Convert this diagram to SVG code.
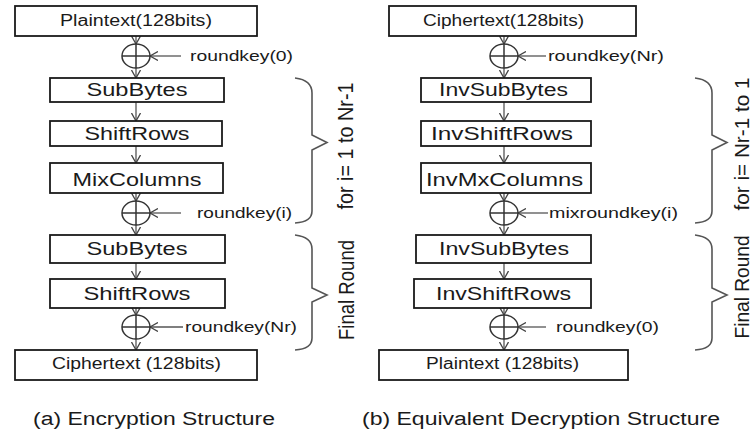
<svg xmlns="http://www.w3.org/2000/svg" width="752" height="435" viewBox="0 0 752 435">
<style>
.box{fill:#fff;stroke:#1a1a1a;stroke-width:1.8}
.t{font-family:"Liberation Sans",Arial,sans-serif;fill:#1a1a1a;text-anchor:middle}
.b{font-size:18px}
.s{font-size:16px}
.k{font-family:"Liberation Sans",Arial,sans-serif;fill:#1a1a1a;font-size:15px}
.c{fill:#1a1a1a;font-family:"Liberation Sans",Arial,sans-serif;font-size:18px;text-anchor:middle}
.ln{stroke:#555;stroke-width:1.3;fill:none}
.arr{stroke:#555;stroke-width:1.3;fill:none;marker-end:url(#ah)}
.x{fill:none;stroke:#333;stroke-width:1.5}
.br{fill:none;stroke:#555;stroke-width:1.6}
</style>
<defs>
<marker id="ah" viewBox="0 0 8 10" refX="8" refY="5" markerWidth="8" markerHeight="10" markerUnits="userSpaceOnUse" orient="auto">
<path d="M0,0.5 L8,5 L0,9.5" fill="none" stroke="#444" stroke-width="1.3"/>
</marker>
<g id="xor">
<ellipse cx="0" cy="0" rx="14" ry="12" class="x"/>
<line x1="0" y1="-12" x2="0" y2="12" class="x"/>
<line x1="-14" y1="0" x2="14" y2="0" class="x"/>
</g>
</defs>
<rect width="752" height="435" fill="#fff"/>

<g id="connectors">
<path class="arr" d="M136,36 V44"/>
<path class="arr" d="M136,68 V78"/>
<path class="arr" d="M136,102 V121"/>
<path class="arr" d="M136,146 V163"/>
<path class="arr" d="M136,193 V201"/>
<path class="arr" d="M136,225 V235"/>
<path class="arr" d="M136,263 V279"/>
<path class="arr" d="M136,308 V315"/>
<path class="arr" d="M136,339 V350"/>
<path class="arr" d="M181,56 H150"/>
<path class="arr" d="M181,213 H150"/>
<path class="arr" d="M183,327 H150"/>
<path class="arr" d="M504,36 V44"/>
<path class="arr" d="M504,68 V78"/>
<path class="arr" d="M504,102 V121"/>
<path class="arr" d="M504,146 V163"/>
<path class="arr" d="M504,193 V201"/>
<path class="arr" d="M504,225 V235"/>
<path class="arr" d="M504,263 V279"/>
<path class="arr" d="M504,308 V315"/>
<path class="arr" d="M504,339 V350"/>
<path class="arr" d="M546,56 H518"/>
<path class="arr" d="M548,213 H518"/>
<path class="arr" d="M546,327 H518"/>
</g>

<g id="xor_a0"><use href="#xor" x="136" y="56"/></g>
<g id="xor_a1"><use href="#xor" x="136" y="213"/></g>
<g id="xor_a2"><use href="#xor" x="136" y="327"/></g>
<g id="xor_b0"><use href="#xor" x="504" y="56"/></g>
<g id="xor_b1"><use href="#xor" x="504" y="213"/></g>
<g id="xor_b2"><use href="#xor" x="504" y="327"/></g>

<g id="plain_a"><rect class="box" x="15" y="6" width="242" height="30"/><text class="t s" x="136" y="26" textLength="152" lengthAdjust="spacingAndGlyphs">Plaintext(128bits)</text></g>
<g id="sub1_a"><rect class="box" x="50" y="78" width="174" height="24"/><text class="t b" x="137" y="96" textLength="101" lengthAdjust="spacingAndGlyphs">SubBytes</text></g>
<g id="shift1_a"><rect class="box" x="50" y="121" width="172" height="25"/><text class="t b" x="137" y="140" textLength="105" lengthAdjust="spacingAndGlyphs">ShiftRows</text></g>
<g id="mix_a"><rect class="box" x="50" y="163" width="173" height="30"/><text class="t b" x="137" y="186" textLength="129" lengthAdjust="spacingAndGlyphs">MixColumns</text></g>
<g id="sub2_a"><rect class="box" x="50" y="235" width="175" height="28"/><text class="t b" x="137" y="255" textLength="101" lengthAdjust="spacingAndGlyphs">SubBytes</text></g>
<g id="shift2_a"><rect class="box" x="50" y="279" width="175" height="29"/><text class="t b" x="137" y="300" textLength="107" lengthAdjust="spacingAndGlyphs">ShiftRows</text></g>
<g id="cipher_a"><rect class="box" x="15" y="350" width="242" height="30"/><text class="t s" x="136.5" y="369" textLength="169" lengthAdjust="spacingAndGlyphs">Ciphertext (128bits)</text></g>

<g id="key_a0"><text class="k" x="190" y="61" textLength="103" lengthAdjust="spacingAndGlyphs">roundkey(0)</text></g>
<g id="key_a1"><text class="k" x="197" y="218" textLength="95" lengthAdjust="spacingAndGlyphs">roundkey(i)</text></g>
<g id="key_a2"><text class="k" x="185" y="332" textLength="112" lengthAdjust="spacingAndGlyphs">roundkey(Nr)</text></g>

<g id="cipher_b"><rect class="box" x="389" y="6" width="247" height="30"/><text class="t s" x="503.5" y="26" textLength="161" lengthAdjust="spacingAndGlyphs">Ciphertext(128bits)</text></g>
<g id="invsub1_b"><rect class="box" x="421" y="78" width="170" height="24"/><text class="t b" x="503.5" y="96" textLength="129" lengthAdjust="spacingAndGlyphs">InvSubBytes</text></g>
<g id="invshift1_b"><rect class="box" x="421" y="121" width="170" height="25"/><text class="t b" x="502" y="140" textLength="142" lengthAdjust="spacingAndGlyphs">InvShiftRows</text></g>
<g id="invmix_b"><rect class="box" x="421" y="163" width="170" height="30"/><text class="t b" x="504.5" y="186" textLength="157" lengthAdjust="spacingAndGlyphs">InvMxColumns</text></g>
<g id="invsub2_b"><rect class="box" x="416" y="235" width="175" height="28"/><text class="t b" x="504" y="255" textLength="130" lengthAdjust="spacingAndGlyphs">InvSubBytes</text></g>
<g id="invshift2_b"><rect class="box" x="414" y="279" width="177" height="29"/><text class="t b" x="503.5" y="300" textLength="135" lengthAdjust="spacingAndGlyphs">InvShiftRows</text></g>
<g id="plain_b"><rect class="box" x="379" y="350" width="249" height="30"/><text class="t s" x="502.5" y="369" textLength="153" lengthAdjust="spacingAndGlyphs">Plaintext (128bits)</text></g>

<g id="key_b0"><text class="k" x="548" y="61" textLength="116" lengthAdjust="spacingAndGlyphs">roundkey(Nr)</text></g>
<g id="key_b1"><text class="k" x="549" y="218" textLength="129" lengthAdjust="spacingAndGlyphs">mixroundkey(i)</text></g>
<g id="key_b2"><text class="k" x="556" y="332" textLength="103" lengthAdjust="spacingAndGlyphs">roundkey(0)</text></g>

<g id="brace_a1"><path class="br" d="M295,78 Q312,80 312,93 V135 L327,142.5 L312,150 V211 Q312,222 295,223"/>
<text class="c" transform="translate(353,146) scale(1.2,1) rotate(-90)" textLength="127" lengthAdjust="spacingAndGlyphs">for i= 1 to Nr-1</text></g>
<g id="brace_a2"><path class="br" d="M295,235 Q312,237 312,249 V288 L327,295 L312,302 V338 Q312,349 295,350"/>
<text class="c" transform="translate(354,290) scale(1.2,1) rotate(-90)" textLength="100" lengthAdjust="spacingAndGlyphs">Final Round</text></g>
<g id="brace_b1"><path class="br" d="M695,78 Q712,80 712,93 V135 L727,142.5 L712,150 V211 Q712,222 695,223"/>
<text class="c" transform="translate(749,144) scale(1.1,1) rotate(-90)" textLength="133" lengthAdjust="spacingAndGlyphs">for i= Nr-1 to 1</text></g>
<g id="brace_b2"><path class="br" d="M695,235 Q712,237 712,249 V288 L727,295 L712,302 V338 Q712,349 695,350"/>
<text class="c" transform="translate(749,287) scale(1.1,1) rotate(-90)" textLength="103" lengthAdjust="spacingAndGlyphs">Final Round</text></g>

<g id="caption_a"><text class="c" x="154" y="425" textLength="242" lengthAdjust="spacingAndGlyphs">(a) Encryption Structure</text></g>
<g id="caption_b"><text class="c" x="541" y="425" textLength="358" lengthAdjust="spacingAndGlyphs">(b) Equivalent Decryption Structure</text></g>
</svg>
